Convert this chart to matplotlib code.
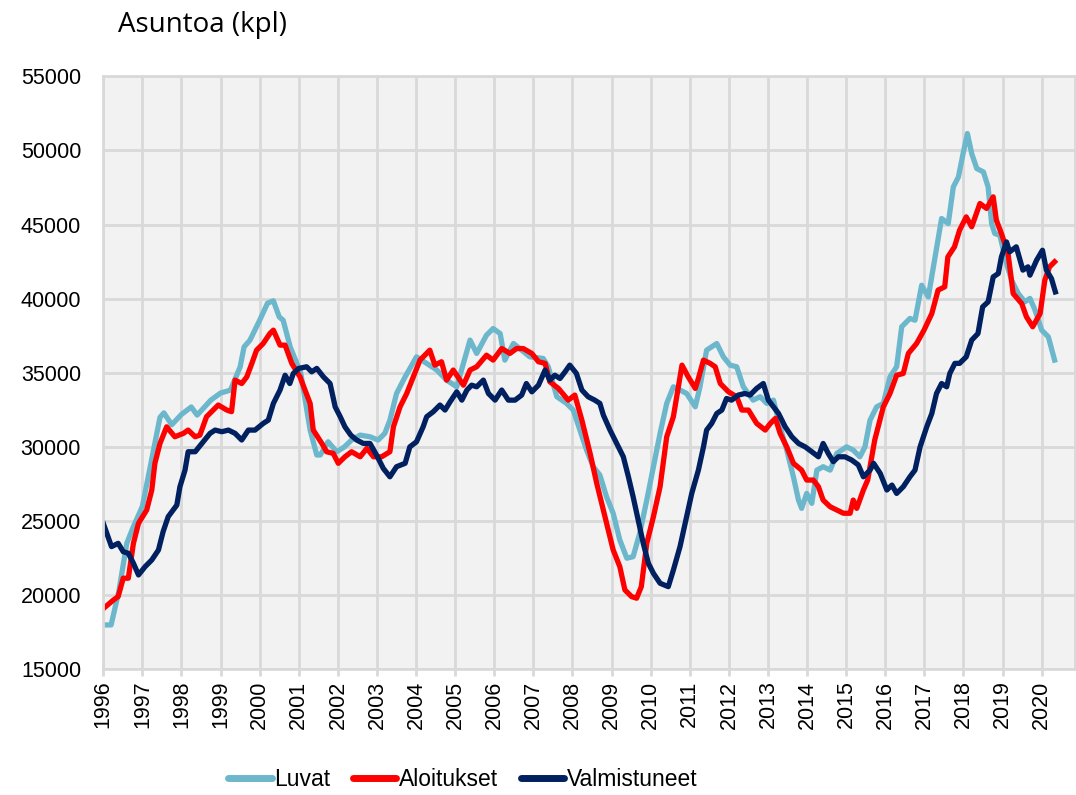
import matplotlib
matplotlib.use("Agg")
import matplotlib.pyplot as plt

# Asuntoa (kpl) - luvat, aloitukset, valmistuneet 1996-2020

luvat_t = [1996.0, 1996.2, 1996.4, 1996.6, 1996.75, 1997.0, 1997.15, 1997.3, 1997.45, 1997.55,
           1997.75, 1998.0, 1998.25, 1998.4, 1998.75, 1999.0, 1999.25, 1999.5, 1999.6, 1999.75,
           2000.0, 2000.2, 2000.35, 2000.5, 2000.6, 2000.78, 2001.05, 2001.29, 2001.46, 2001.55,
           2001.75, 2001.97, 2002.17, 2002.35, 2002.57, 2002.82, 2003.03, 2003.2, 2003.33, 2003.5,
           2003.72, 2004.01, 2004.27, 2004.53, 2004.78, 2005.04, 2005.21, 2005.38, 2005.55, 2005.8,
           2005.97, 2006.15, 2006.27, 2006.49, 2006.7, 2006.91, 2007.25, 2007.38, 2007.6, 2007.85,
           2008.02, 2008.19, 2008.36, 2008.53, 2008.7, 2008.87, 2009.04, 2009.21, 2009.39, 2009.55,
           2009.72, 2009.9, 2010.07, 2010.24, 2010.41, 2010.58, 2010.75, 2010.92, 2011.14, 2011.26,
           2011.43, 2011.69, 2011.86, 2012.03, 2012.2, 2012.37, 2012.62, 2012.8, 2012.97, 2013.14,
           2013.31, 2013.48, 2013.65, 2013.78, 2013.86, 2013.99, 2014.12, 2014.25, 2014.41, 2014.59,
           2014.76, 2015.01, 2015.18, 2015.35, 2015.48, 2015.61, 2015.78, 2015.95, 2016.12, 2016.29,
           2016.42, 2016.63, 2016.76, 2016.93, 2017.1, 2017.23, 2017.44, 2017.61, 2017.74, 2017.87,
           2017.99, 2018.1, 2018.21, 2018.34, 2018.51, 2018.63, 2018.72, 2018.8, 2018.93, 2019.1,
           2019.23, 2019.4, 2019.57, 2019.7, 2019.83, 2020.0, 2020.17, 2020.33]
luvat = [18000, 18000, 20300, 23500, 24500, 26000, 28000, 30000, 32000, 32300,
         31500, 32200, 32700, 32150, 33160, 33640, 33830, 35400, 36750, 37200,
         38550, 39700, 39860, 38770, 38550, 36750, 34980, 31140, 29460, 29460,
         30350, 29680, 30010, 30470, 30800, 30690, 30470, 30920, 31810, 33610,
         34730, 36080, 35640, 35190, 34510, 34060, 35640, 37210, 36310, 37540,
         37990, 37650, 35860, 36980, 36530, 36080, 35970, 35410, 33390, 32940,
         32490, 31140, 29790, 28670, 28110, 26650, 25530, 23730, 22500, 22600,
         24180, 26420, 28670, 30920, 32940, 34060, 33840, 33610, 32710, 34060,
         36530, 36980, 36080, 35520, 35410, 34060, 33160, 33390, 32940, 33160,
         31360, 29790, 27990, 26420, 25860, 26870, 26200, 28440, 28670, 28440,
         29570, 30010, 29790, 29340, 30010, 31810, 32710, 32940, 34730, 35410,
         38110, 38670, 38550, 40910, 40120, 42150, 45410, 45070, 47540, 48210,
         49790, 51140, 49790, 48780, 48550, 47540, 45070, 44400, 44280, 42380,
         41250, 40350, 39790, 40020, 39230, 37880, 37430, 35860]

aloitukset_t = [1996.0, 1996.26, 1996.38, 1996.51, 1996.64, 1996.77, 1996.9, 1997.11, 1997.24, 1997.32,
                1997.45, 1997.62, 1997.83, 1998.05, 1998.17, 1998.35, 1998.47, 1998.64, 1998.94, 1999.16,
                1999.28, 1999.37, 1999.54, 1999.67, 1999.8, 1999.92, 2000.09, 2000.26, 2000.35, 2000.52,
                2000.65, 2000.82, 2001.03, 2001.29, 2001.37, 2001.59, 2001.71, 2001.88, 2002.01, 2002.18,
                2002.35, 2002.57, 2002.74, 2002.91, 2003.12, 2003.33, 2003.42, 2003.59, 2003.76, 2003.93,
                2004.1, 2004.35, 2004.48, 2004.65, 2004.78, 2004.95, 2005.21, 2005.38, 2005.55, 2005.8,
                2005.97, 2006.19, 2006.4, 2006.57, 2006.74, 2006.96, 2007.13, 2007.3, 2007.42, 2007.64,
                2007.89, 2008.06, 2008.24, 2008.45, 2008.62, 2008.83, 2009.04, 2009.21, 2009.34, 2009.51,
                2009.64, 2009.76, 2009.9, 2010.07, 2010.24, 2010.41, 2010.58, 2010.8, 2010.96, 2011.14,
                2011.22, 2011.35, 2011.52, 2011.65, 2011.78, 2011.99, 2012.2, 2012.33, 2012.5, 2012.71,
                2012.93, 2013.06, 2013.19, 2013.31, 2013.48, 2013.65, 2013.86, 2013.99, 2014.16, 2014.29,
                2014.41, 2014.59, 2014.76, 2014.93, 2015.1, 2015.18, 2015.27, 2015.44, 2015.55, 2015.73,
                2015.95, 2016.12, 2016.29, 2016.46, 2016.59, 2016.8, 2016.99, 2017.19, 2017.35, 2017.52,
                2017.6, 2017.77, 2017.9, 2018.07, 2018.21, 2018.42, 2018.59, 2018.76, 2018.84, 2018.97,
                2019.14, 2019.27, 2019.49, 2019.61, 2019.77, 2019.96, 2020.08, 2020.2, 2020.33]
aloitukset = [19100, 19680, 19910, 21150, 21150, 23500, 24850, 25750, 27100, 28900,
              30240, 31360, 30690, 30920, 31140, 30690, 30800, 32040, 32830, 32490,
              32380, 34510, 34280, 34730, 35640, 36530, 36980, 37650, 37880, 36870,
              36870, 35640, 34730, 32940, 31140, 30240, 29680, 29570, 28900, 29340,
              29680, 29340, 29910, 29340, 29340, 29680, 31360, 32710, 33610, 34730,
              35860, 36530, 35520, 35750, 34510, 35190, 34170, 35190, 35410, 36190,
              35860, 36640, 36310, 36640, 36640, 36310, 35750, 35640, 34400, 33950,
              33160, 33500, 31810, 29570, 27550, 25300, 23060, 21930, 20360, 19910,
              19800, 20580, 23500, 25300, 27320, 30690, 32040, 35520, 34730, 33950,
              34620, 35860, 35640, 35410, 34280, 33720, 33390, 32490, 32490, 31590,
              31140, 31590, 31930, 30920, 30010, 28900, 28440, 27770, 27770, 27320,
              26420, 25970, 25750, 25530, 25530, 26420, 25860, 27100, 27770, 30470,
              32710, 33610, 34840, 34960, 36310, 36980, 37880, 39000, 40580, 40800,
              42820, 43500, 44620, 45520, 44850, 46420, 46090, 46870, 45300, 44400,
              43050, 40350, 39670, 38780, 38110, 39000, 41250, 42150, 42490]

valmistuneet_t = [1996.0, 1996.21, 1996.38, 1996.51, 1996.64, 1996.77, 1996.9, 1997.07, 1997.24, 1997.41,
                  1997.53, 1997.66, 1997.88, 1997.96, 1998.09, 1998.17, 1998.35, 1998.52, 1998.73, 1998.86,
                  1999.03, 1999.2, 1999.37, 1999.54, 1999.71, 1999.88, 2000.09, 2000.22, 2000.35, 2000.52,
                  2000.65, 2000.77, 2000.86, 2001.0, 2001.2, 2001.33, 2001.46, 2001.63, 2001.8, 2001.93,
                  2002.06, 2002.18, 2002.33, 2002.48, 2002.65, 2002.82, 2002.99, 2003.16, 2003.33, 2003.5,
                  2003.72, 2003.84, 2004.01, 2004.18, 2004.27, 2004.44, 2004.61, 2004.74, 2004.87, 2005.04,
                  2005.17, 2005.3, 2005.42, 2005.55, 2005.72, 2005.85, 2006.02, 2006.19, 2006.36, 2006.53,
                  2006.7, 2006.82, 2006.96, 2007.13, 2007.3, 2007.42, 2007.55, 2007.68, 2007.81, 2007.93,
                  2008.1, 2008.24, 2008.4, 2008.57, 2008.7, 2008.79, 2008.96, 2009.13, 2009.3, 2009.43,
                  2009.55, 2009.68, 2009.81, 2009.94, 2010.07, 2010.24, 2010.45, 2010.58, 2010.75, 2010.92,
                  2011.05, 2011.22, 2011.35, 2011.43, 2011.56, 2011.69, 2011.82, 2011.94, 2012.07, 2012.24,
                  2012.41, 2012.54, 2012.71, 2012.88, 2013.01, 2013.14, 2013.27, 2013.44, 2013.61, 2013.78,
                  2013.95, 2014.12, 2014.29, 2014.41, 2014.54, 2014.67, 2014.8, 2014.97, 2015.14, 2015.31,
                  2015.44, 2015.61, 2015.7, 2015.87, 2016.04, 2016.17, 2016.29, 2016.46, 2016.63, 2016.76,
                  2016.89, 2017.06, 2017.19, 2017.31, 2017.44, 2017.57, 2017.65, 2017.78, 2017.9, 2018.07,
                  2018.21, 2018.37, 2018.49, 2018.63, 2018.76, 2018.89, 2018.97, 2019.1, 2019.18, 2019.35,
                  2019.52, 2019.65, 2019.7, 2019.87, 2020.02, 2020.12, 2020.25, 2020.35]
valmistuneet = [24850, 23280, 23500, 22940, 22830, 22160, 21370, 21930, 22380, 23050,
                24290, 25300, 26080, 27320, 28440, 29680, 29680, 30240, 30920, 31140,
                31030, 31140, 30920, 30470, 31140, 31140, 31590, 31810, 32940, 33840,
                34840, 34280, 34960, 35300, 35410, 35070, 35300, 34730, 34280, 32710,
                32040, 31360, 30800, 30470, 30240, 30240, 29450, 28560, 27990, 28670,
                28900, 30010, 30350, 31360, 32040, 32380, 32830, 32490, 33050, 33720,
                33160, 33840, 34170, 34060, 34510, 33610, 33160, 33840, 33160, 33160,
                33500, 34280, 33720, 34170, 35190, 34510, 34840, 34620, 35070, 35520,
                34960, 33840, 33390, 33160, 32940, 32150, 31140, 30240, 29340, 27990,
                26650, 25080, 23500, 22160, 21480, 20810, 20580, 21700, 23280, 25300,
                26870, 28440, 30010, 31140, 31590, 32260, 32490, 33270, 33160, 33500,
                33610, 33500, 33950, 34280, 33160, 32710, 32260, 31360, 30690, 30240,
                30010, 29680, 29340, 30240, 29570, 29010, 29340, 29340, 29120, 28790,
                27990, 28440, 28900, 28220, 27100, 27430, 26870, 27320, 27990, 28440,
                30010, 31360, 32260, 33610, 34280, 34060, 34960, 35640, 35640, 36080,
                37210, 37650, 39450, 39790, 41470, 41700, 42820, 43830, 43160, 43500,
                41930, 42150, 41590, 42600, 43270, 41930, 41360, 40460]

years = list(range(1996, 2021))
yticks = list(range(15000, 55001, 5000))

plt.rcParams["font.family"] = ["Liberation Sans", "DejaVu Sans"]

fig = plt.figure(figsize=(10.76, 7.95), dpi=100)
ax = fig.add_axes([0.096, 0.158, 0.903, 0.746])
ax.set_facecolor("#f2f2f2")

lw = 3.8
ax.plot(luvat_t, luvat, color="#6cb7cc", lw=lw, label="Luvat", solid_joinstyle="round")
ax.plot(aloitukset_t, aloitukset, color="#ff0000", lw=lw, label="Aloitukset", solid_joinstyle="round")
ax.plot(valmistuneet_t, valmistuneet, color="#002060", lw=lw, label="Valmistuneet", solid_joinstyle="round")

ax.set_xlim(1996, 2020.85)
ax.set_ylim(15000, 55000)
ax.set_xticks(years)
ax.set_xticklabels([str(y) for y in years], rotation=90)
ax.set_yticks(yticks)
ax.set_yticklabels([str(v) for v in yticks])
ax.grid(True, color="#d9d9d9", lw=2)
ax.set_axisbelow(True)
for s in ax.spines.values():
    s.set_color("#d9d9d9")
    s.set_linewidth(2)
ax.tick_params(axis="x", length=5, width=2, color="#d9d9d9", pad=3, labelsize=15.5)
ax.tick_params(axis="y", length=0, pad=16, labelsize=15.5)

fig.text(0.11, 0.968, "Asuntoa (kpl)", fontsize=20, family="Open Sans", va="center")

leg = fig.legend(loc="center", bbox_to_anchor=(0.43, 0.02), ncol=3, frameon=False,
                 prop={"size": 16.5}, handlelength=1.9, handletextpad=0.1, columnspacing=1.0)
for h in leg.get_lines():
    h.set_linewidth(5)
    h.set_solid_capstyle("round")

fig.savefig("out.png", dpi=100)
